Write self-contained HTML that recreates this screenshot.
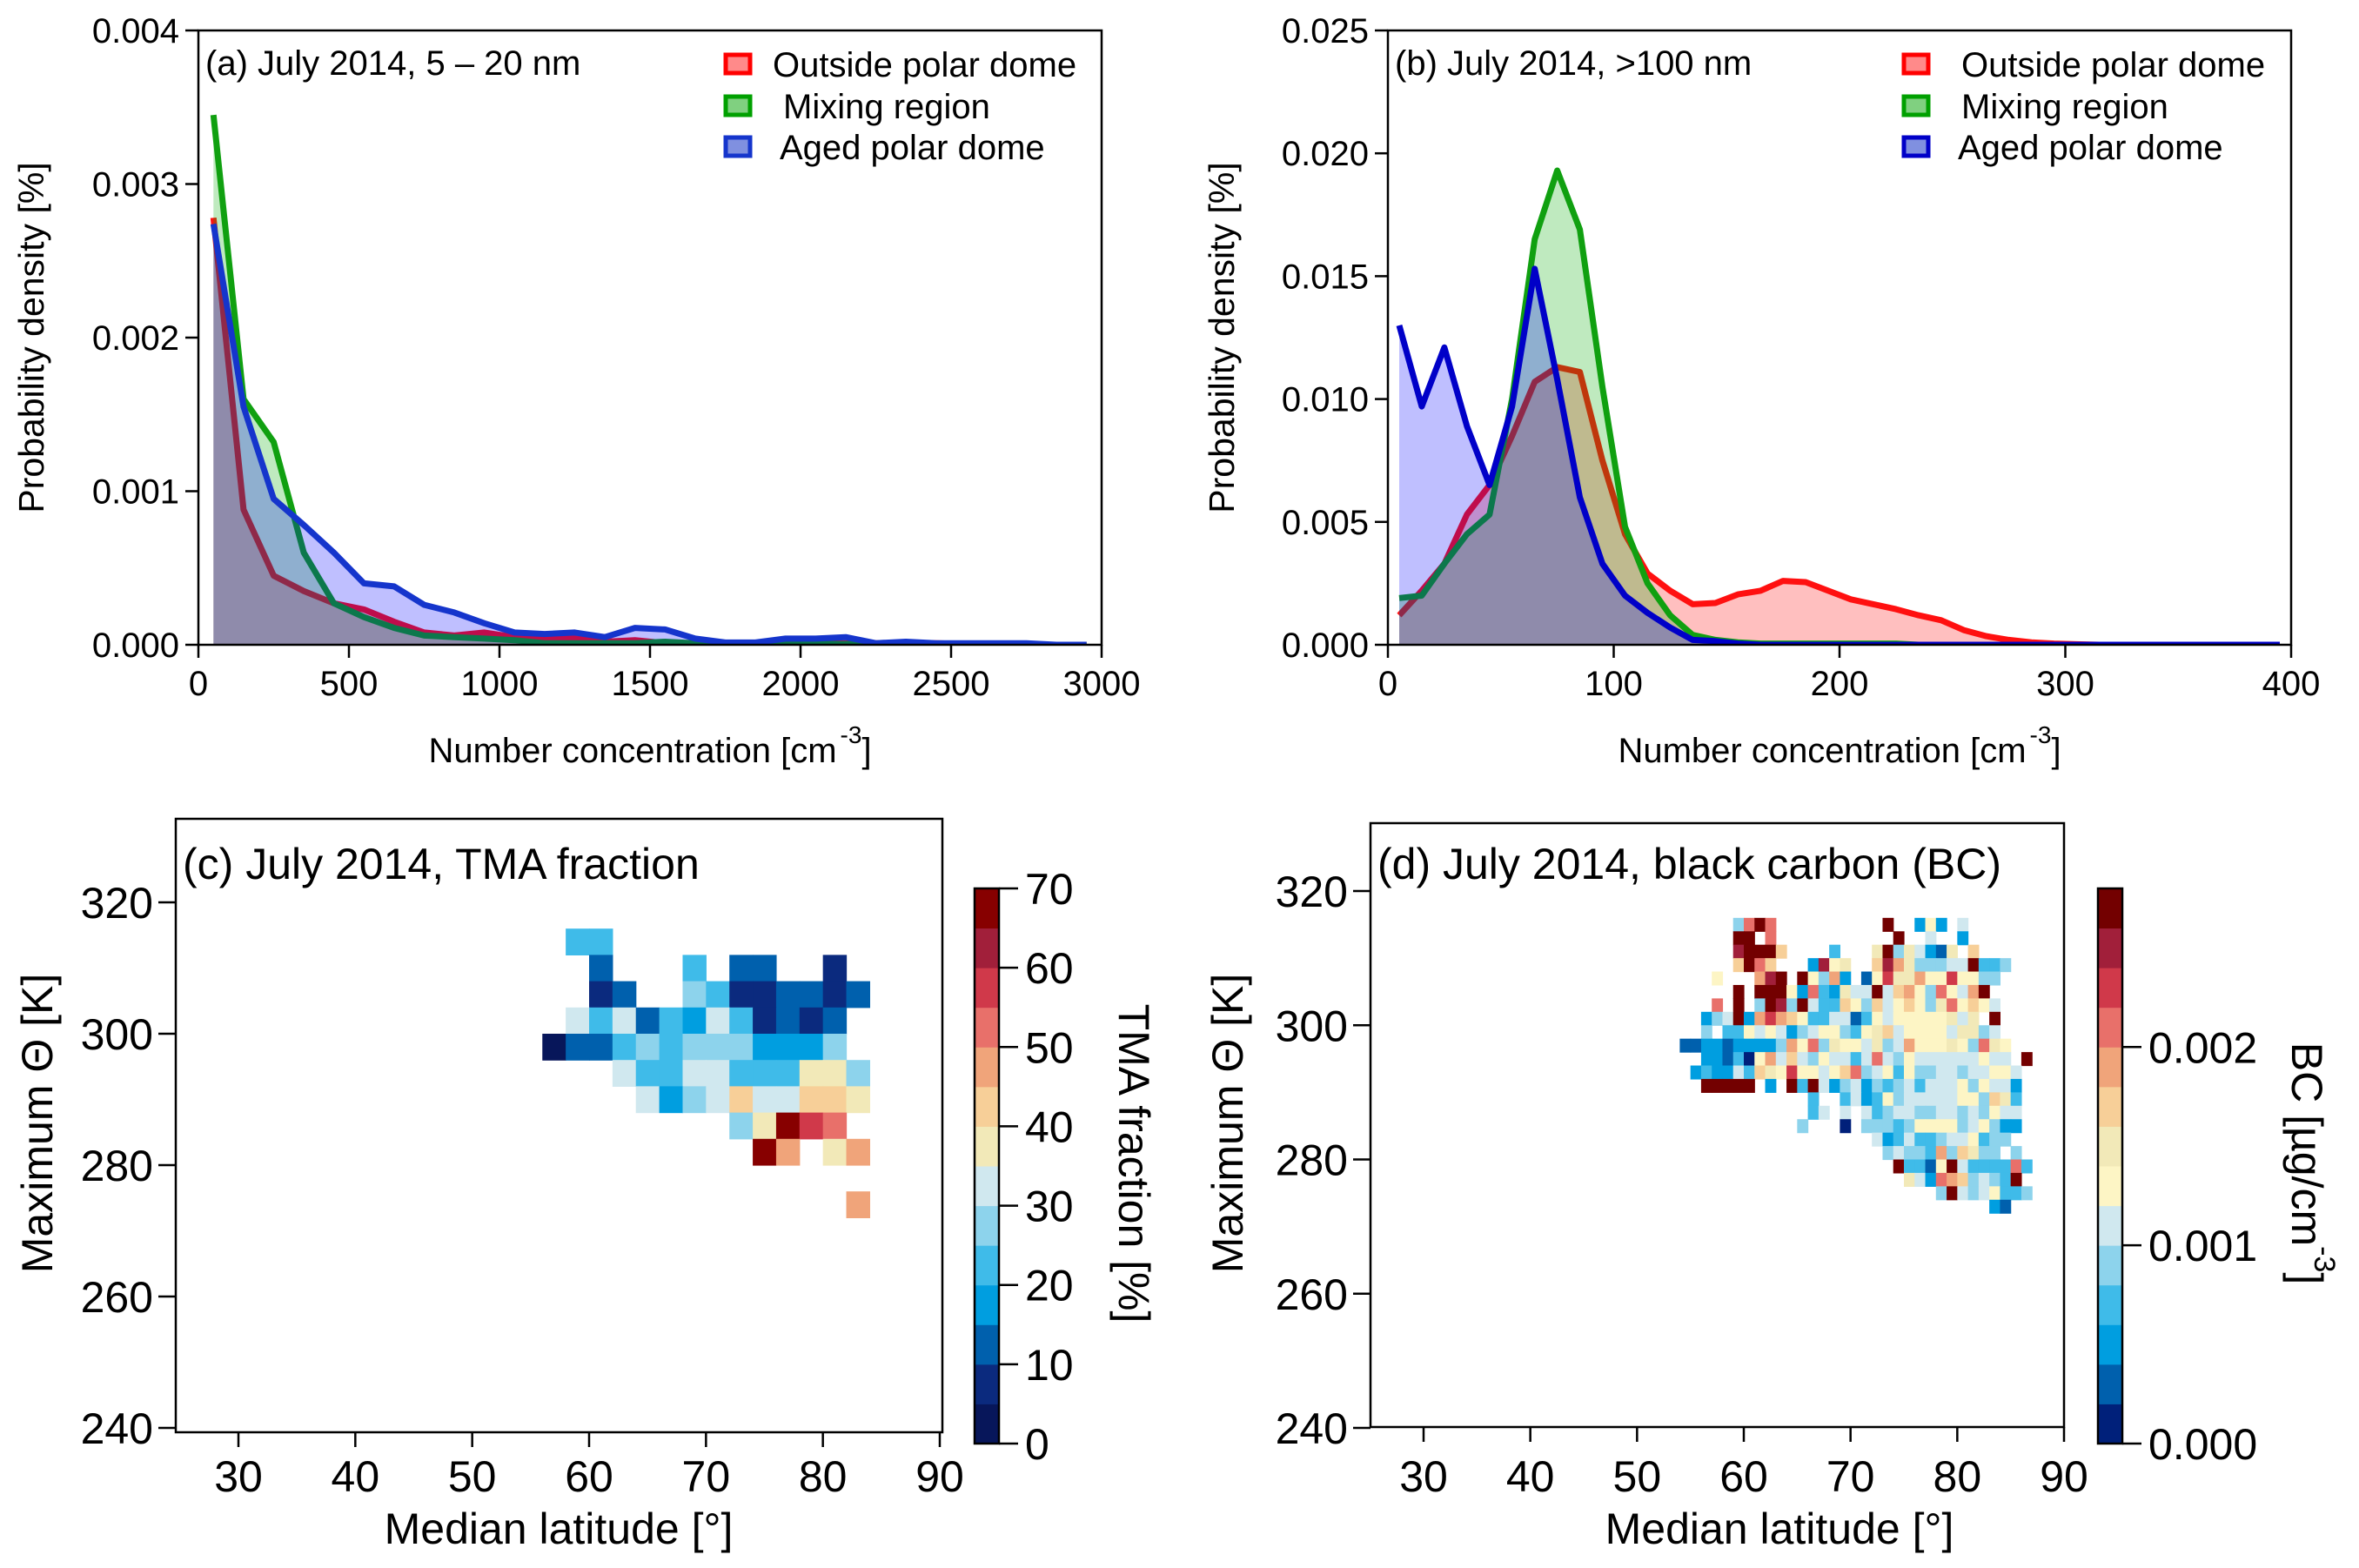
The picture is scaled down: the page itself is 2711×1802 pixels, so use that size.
<!DOCTYPE html>
<html><head><meta charset="utf-8"><style>
html,body{margin:0;padding:0;background:#fff;}
svg{display:block;font-family:"Liberation Sans",Arial,sans-serif;}
</style></head><body>
<svg id="fig" xmlns="http://www.w3.org/2000/svg" width="2711" height="1802" viewBox="0 0 2711 1802"></svg>
<script>
const _ = null;
// ---------- Panel (a) data: 5-20 nm, probability density (units 1e-3) ----------
const aX = [50,150,250,350,450,550,650,750,850,950,1050,1150,1250,1350,1450,1550,1650,1750,1850,1950,2050,2150,2250,2350,2450,2550,2650,2750,2850,2950];
const aRed = [2.78,0.88,0.45,0.35,0.27,0.23,0.15,0.08,0.06,0.08,0.05,0.04,0.04,0.02,0.03,0.01,0.01,0.01,0.01,0.01,0.01,0.01,0.01,0.01,0.01,0.005,0.005,0,0,0];
const aGreen = [3.45,1.60,1.32,0.60,0.27,0.18,0.11,0.06,0.05,0.04,0.03,0.01,0.01,0.01,0.01,0.02,0.01,0.01,0.005,0.005,0.005,0.005,0.005,0.005,0.005,0,0,0,0,0];
const aBlue = [2.74,1.55,0.95,0.78,0.60,0.40,0.38,0.26,0.21,0.14,0.08,0.07,0.08,0.05,0.11,0.10,0.04,0.015,0.015,0.04,0.04,0.05,0.01,0.02,0.01,0.01,0.01,0.01,0,0];
const aXTicks = [0,500,1000,1500,2000,2500,3000];
const aYTicks = [0,1,2,3,4];
const aYLabels = ['0.000','0.001','0.002','0.003','0.004'];
// ---------- Panel (b) data: >100 nm (units 1e-3) ----------
const bX = [5,15,25,35,45,55,65,75,85,95,105,115,125,135,145,155,165,175,185,195,205,215,225,235,245,255,265,275,285,295,305,315,325,335,345,355,365,375,385,395];
const bRed = [1.2,2.2,3.3,5.3,6.5,8.5,10.7,11.3,11.1,7.5,4.5,2.9,2.2,1.65,1.7,2.05,2.2,2.6,2.55,2.2,1.85,1.65,1.45,1.2,1.0,0.6,0.35,0.2,0.1,0.05,0.02,0,0,0,0,0,0,0,0,0];
const bGreen = [1.9,2.0,3.3,4.5,5.3,10.0,16.5,19.3,16.9,10.5,4.8,2.5,1.2,0.4,0.2,0.1,0.05,0.05,0.05,0.05,0.05,0.05,0.05,0,0,0,0,0,0,0,0,0,0,0,0,0,0,0,0,0];
const bBlue = [13.0,9.7,12.1,8.9,6.5,9.7,15.3,10.8,6.0,3.3,2.0,1.3,0.7,0.2,0.15,0.05,0,0,0,0,0,0,0,0,0,0,0,0,0,0,0,0,0,0,0,0,0,0,0,0];
const bXTicks = [0,100,200,300,400];
const bYTicks = [0,5,10,15,20,25];
const bYLabels = ['0.000','0.005','0.010','0.015','0.020','0.025'];
// ---------- Panel (c) data: TMA fraction [%], cells 2 deg x 4 K ----------
const tmaRowTheta = [312,308,304,300,296,292,288,284,280,272];
const tmaRowStart = [58,60,60,58,56,62,64,72,74,82];
const tmaRows = [
 [22.5,22.5],
 [12.5,_,_,_,22.5,_,12.5,12.5,_,_,7.5],
 [7.5,12.5,_,_,27.5,22.5,7.5,7.5,12.5,12.5,7.5,12.5],
 [32.5,22.5,32.5,12.5,22.5,17.5,32.5,22.5,7.5,12.5,7.5,12.5],
 [2.5,12.5,12.5,22.5,27.5,22.5,27.5,27.5,27.5,17.5,17.5,17.5,27.5],
 [32.5,22.5,22.5,32.5,32.5,22.5,22.5,22.5,37.5,37.5,27.5],
 [32.5,17.5,27.5,32.5,42.5,32.5,32.5,42.5,42.5,37.5],
 [27.5,37.5,67.5,57.5,52.5],
 [67.5,47.5,_,37.5,47.5],
 [47.5]
];
const cTicksX = [30,40,50,60,70,80,90];
const cTicksY = [240,260,280,300,320];
const cBarTicks = [0,10,20,30,40,50,60,70];
// ---------- Panel (d) data: BC [1e-3 ug/cm3], cells 1 deg x 2 K ----------
const bcRowTheta = [314,312,310,308,306,304,302,300,298,296,294,292,290,288,286,284,282,280,278,276,274,272];
const bcRowStart = [59,59,59,59,57,59,57,56,56,54,56,55,56,66,66,65,72,73,74,75,78,83];
const bcRows = [
 [.9,2.1,2.7,2.1,_,_,_,_,_,_,_,_,_,_,2.7,_,_,.5,1.3,.5,_,1.1],
 [2.7,2.7,_,2.1,_,_,_,_,_,_,_,_,_,_,_,2.7,_,_,1.1,_,_,.5],
 [2.5,2.7,2.7,2.7,1.7,_,_,_,_,.7,_,_,_,1.5,2.7,.9,1.5,1.1,.5,.3,1.5,_,1.7],
 [1.7,2.7,2.1,1.7,_,_,_,.5,2.5,1.3,1.5,_,_,1.7,2.5,1.9,1.5,.9,.9,.9,1.1,1.1,2.7,.7,.7,.9],
 [1.3,_,_,_,1.9,2.5,2.7,_,2.7,1.3,.9,1.9,.5,_,.3,1.3,2.3,1.5,1.5,1.9,1.3,1.3,2.3,1.3,1.3,.9,.9],
 [2.7,_,2.7,2.7,2.7,1.3,.5,2.1,.7,.5,1.5,1.1,1.1,2.7,1.1,1.7,1.9,1.3,.9,2.1,1.3,1.1,1.9,2.7],
 [2.1,_,2.7,_,.9,2.7,2.5,.9,2.7,1.1,.7,.7,1.7,1.3,.9,1.7,1.1,1.3,1.7,1.3,.9,1.5,2.1,1.3,1.7,1.3,1.1],
 [.5,.9,1.1,2.7,.5,1.9,2.3,1.9,1.7,1.3,.7,.7,1.1,1.1,.3,.7,1.3,1.1,1.3,1.3,1.3,1.3,1.3,1.5,1.1,1.5,_,2.7],
 [.9,_,.7,.7,1.3,1.1,1.3,1.1,.5,.9,1.1,1.3,1.3,.9,.7,1.3,1.5,1.7,1.1,1.3,1.3,1.3,1.3,1.1,1.5,1.5,.9,1.1],
 [.3,.3,.5,.5,.3,.5,.5,.5,.5,.9,1.9,1.3,2.1,.9,1.5,1.3,1.3,1.1,1.5,.9,1.1,1.9,1.3,1.3,1.3,1.5,1.3,.9,2.1,1.5,1.3],
 [.5,.5,.3,.7,.1,1.3,1.9,1.1,1.7,1.1,.9,1.3,1.1,1.1,.7,1.1,2.1,1.1,.9,1.3,1.1,1.1,1.1,1.1,1.1,1.1,1.3,1.1,1.1,_,2.7],
 [.5,.7,.5,.5,1.1,.7,1.7,1.5,1.3,2.3,1.3,1.3,1.1,1.3,1.7,2.1,.9,1.1,1.3,.7,1.3,.9,.9,1.1,1.1,.9,1.1,1.1,1.3,1.3,1.1],
 [2.7,2.7,2.7,2.7,2.7,_,.5,_,2.7,.7,2.7,1.1,.5,.9,1.1,.5,.9,.7,.9,1.1,.7,1.1,1.1,1.1,1.3,.9,1.3,1.1,1.1,.5],
 [.7,_,_,.7,1.1,.5,.7,1.3,.9,1.1,1.1,1.1,1.1,1.1,1.3,1.3,.9,1.7,1.5,.7],
 [.7,1.1,_,1.1,_,1.1,.7,.9,1.1,1.1,.9,.9,1.1,1.1,.9,1.1,.9,1.3,1.1,1.1],
 [.9,_,_,_,.1,_,.9,.9,.9,.7,.9,1.3,1.3,1.3,1.3,.9,1.1,1.3,.9,.5,.5],
 [1.1,.5,.7,1.1,.7,.7,.9,1.1,1.1,1.3,.7,.9,.9],
 [.9,1.1,.9,.9,.7,1.9,.9,1.7,1.5,.9,.9,_,.9],
 [2.7,.7,.7,.3,1.3,2.7,1.1,.7,.7,.7,.7,2.1,.7],
 [1.5,1.1,.5,2.1,1.9,1.7,.9,1.1,.9,.7,2.7],
 [.9,2.7,1.1,.9,1.1,1.3,.7,.7,.9],
 [.5,.3]
];
const dTicksX = [30,40,50,60,70,80,90];
const dTicksY = [240,260,280,300,320];
const dBarTicks = [0,1,2];
const dBarLabels = ['0.000','0.001','0.002'];

// ---------- styles ----------
const tmaPalette = ['#07165a','#0b2a7e','#0060ad','#009ee0','#3fbbe9','#8dd3ec','#d0e8ef','#f2e9b8','#f7cf98','#f0a47a','#e8706a','#d0394a','#a11f3a','#870000'];
const bcPalette = ['#00207a','#0060ad','#009ee0','#3fbbe9','#8dd3ec','#d0e8ef','#fdf5c5','#f2e9b8','#f7cf98','#f0a47a','#e8706a','#d0394a','#a11f3a','#730000'];

const NS = 'http://www.w3.org/2000/svg';
const svg = document.getElementById('fig');
function lin(d0,d1,p0,p1){return v=>p0+(v-d0)*(p1-p0)/(d1-d0);}
function el(tag, attrs, parent){
  const e = document.createElementNS(NS, tag);
  for (const k in attrs) e.setAttribute(k, attrs[k]);
  (parent||svg).appendChild(e);
  return e;
}
function txt(x,y,s,size,anchor,parent,rot){
  const t = el('text',{x:x,y:y,'font-size':size,'text-anchor':anchor||'start',fill:'#000'},parent);
  if (rot) t.setAttribute('transform','rotate('+rot+' '+x+' '+y+')');
  t.textContent = s;
  return t;
}

// ---------- line panels ----------
function linePanel(opt){
  const g = el('g',{});
  
  
  const xs = opt.xs, ys = opt.ys;
  const clipId = opt.name+'-clip';
  const cp = el('clipPath',{id:clipId}, g);
  el('rect',{x:opt.x0,y:opt.y1,width:opt.x1-opt.x0,height:opt.y0-opt.y1}, cp);
  const series = [
    {vals:opt.red, line:'#ff1010', fill:'rgba(255,0,0,0.25)', name:'outside-polar-dome'},
    {vals:opt.green, line:'#10a010', fill:'rgba(0,170,0,0.25)', name:'mixing-region'},
    {vals:opt.blue, line:opt.blueLine, fill:'rgba(0,0,255,0.25)', name:'aged-polar-dome'}
  ];
  const sg = el('g',{'clip-path':'url(#'+clipId+')'}, g);
  series.forEach(s=>{
    let pts = opt.X.map((xv,i)=>xs(xv).toFixed(1)+','+ys(s.vals[i]).toFixed(1));
    const area = el('polygon',{points: xs(opt.X[0]).toFixed(1)+','+ys(0)+' '+pts.join(' ')+' '+xs(opt.X[opt.X.length-1]).toFixed(1)+','+ys(0), fill:s.fill, stroke:'none'}, sg);
    
    
    const ln = el('polyline',{points:pts.join(' '), fill:'none', stroke:s.line, 'stroke-width':7, 'stroke-linejoin':'round'}, sg);
    
    
  });
  const box = el('rect',{x:opt.x0,y:opt.y1,width:opt.x1-opt.x0,height:opt.y0-opt.y1,fill:'none',stroke:'#000','stroke-width':2.5}, g);
  
  
  const xa = el('g',{},g);
  
  
  opt.xTicks.forEach(v=>{
    el('line',{x1:xs(v),x2:xs(v),y1:opt.y0,y2:opt.y0+15,stroke:'#000','stroke-width':2.5},xa);
    const t = txt(xs(v),opt.y0+58,String(v),40,'middle',xa);
    
    
  });
  const ya = el('g',{},g);
  
  
  opt.yTicks.forEach((v,i)=>{
    el('line',{x1:opt.x0-15,x2:opt.x0,y1:ys(v),y2:ys(v),stroke:'#000','stroke-width':2.5},ya);
    const t = txt(opt.x0-22,ys(v)+14,opt.yLabels[i],40,'end',ya);
    
    
  });
  const xt = el('text',{x:(opt.x0+opt.x1)/2,y:876,'font-size':40,'text-anchor':'middle'},g);
  
  
  const t1 = el('tspan',{},xt); t1.textContent='Number concentration [cm';
  const t2 = el('tspan',{'font-size':28,dy:-22,dx:4},xt); t2.textContent='-3';
  const t3 = el('tspan',{dy:22},xt); t3.textContent=']';
  const yt = txt(opt.yTitleX,388,'Probability density [%]',41,'middle',g,-90);
  
  
  const ann = txt(opt.annX,86,opt.ann,40,'start',g);
  
  
  const lg = el('g',{},g);
  
  
  const legs = [['Outside polar dome','#ff0000','#ff8a8a',74,opt.legTx[0]],['Mixing region','#00a000','#80d080',122,opt.legTx[1]],['Aged polar dome',opt.blueLine,'#8090e0',169,opt.legTx[2]]];
  legs.forEach(L=>{
    const e = el('g',{},lg);
    
    
    el('rect',{x:opt.legX,y:L[3]-11,width:28,height:21,fill:L[2],stroke:L[1],'stroke-width':5},e);
    txt(L[4],L[3]+14,L[0],40,'start',e);
  });
}
linePanel({name:'panel-a', X:aX, red:aRed, green:aGreen, blue:aBlue, xs:lin(0,3000,228,1266), ys:lin(0,4,741,35),
  x0:228,x1:1266,y0:741,y1:35, xTicks:aXTicks, yTicks:aYTicks, yLabels:aYLabels, yTitleX:50,
  ann:'(a) July 2014, 5 – 20 nm', annX:236, legX:834, legTx:[888,900,896], blueLine:'#1535cc'});
linePanel({name:'panel-b', X:bX, red:bRed, green:bGreen, blue:bBlue, xs:lin(0,400,1595,2633), ys:lin(0,25,741,35),
  x0:1595,x1:2633,y0:741,y1:35, xTicks:bXTicks, yTicks:bYTicks, yLabels:bYLabels, yTitleX:1418,
  ann:'(b) July 2014, >100 nm', annX:1603, legX:2188, legTx:[2254,2254,2250], blueLine:'#0000c8'});

// ---------- heatmap panels ----------
function heatPanel(opt){
  const g = el('g',{});
  
  
  const xs = opt.xs, ys = opt.ys;
  const cells = el('g',{},g);
  
  
  opt.rows.forEach((row,r)=>{
    row.forEach((v,i)=>{
      if (v===null) return;
      const lat = opt.rowStart[r] + i*opt.dLat;
      const th = opt.rowTheta[r];
      const x = xs(lat), w = xs(lat+opt.dLat)-x;
      const y = ys(th+opt.dTh), h = ys(th)-y;
      let bin = Math.floor(v/opt.binW + 1e-9);
      bin = Math.max(0, Math.min(opt.pal.length-1, bin));
      const c = el('rect',{x:x.toFixed(2),y:y.toFixed(2),width:(w+0.6).toFixed(2),height:(h+0.6).toFixed(2),fill:opt.pal[bin]},cells);
      
      
    });
  });
  const box = el('rect',{x:opt.bx0,y:opt.by1,width:opt.bx1-opt.bx0,height:opt.by0-opt.by1,fill:'none',stroke:'#000','stroke-width':2.5},g);
  
  
  const xa = el('g',{},g);
  
  
  opt.xTicks.forEach(v=>{
    el('line',{x1:xs(v),x2:xs(v),y1:opt.by0,y2:opt.by0+17,stroke:'#000','stroke-width':2.5},xa);
    const t = txt(xs(v),1714,String(v),50,'middle',xa);
    
    
  });
  const ya = el('g',{},g);
  
  
  opt.yTicks.forEach(v=>{
    el('line',{x1:opt.bx0-20,x2:opt.bx0,y1:ys(v),y2:ys(v),stroke:'#000','stroke-width':2.5},ya);
    const t = txt(opt.bx0-26,ys(v)+18,String(v),50,'end',ya);
    
    
  });
  const xt = txt(opt.xTitleX,1774,'Median latitude [°]',50,'middle',g);
  
  
  const yt = txt(opt.yTitleX,1291,'Maximum Θ [K]',50,'middle',g,-90);
  
  
  const ann = txt(opt.bx0+8,1010,opt.ann,50,'start',g);
  
  
  const cb = el('g',{},g);
  
  
  const cs = opt.cbs;
  opt.pal.forEach((col,i)=>{
    const y = cs((i+1)*opt.binW), h = cs(i*opt.binW)-y;
    el('rect',{x:opt.cbx,y:y,width:28,height:h+0.5,fill:col},cb);
  });
  el('rect',{x:opt.cbx,y:cs(opt.pal.length*opt.binW),width:28,height:cs(0)-cs(opt.pal.length*opt.binW),fill:'none',stroke:'#000','stroke-width':2.5},cb);
  opt.cbTicks.forEach((v,i)=>{
    el('line',{x1:opt.cbx+28,x2:opt.cbx+50,y1:cs(v),y2:cs(v),stroke:'#000','stroke-width':2.5},cb);
    const t = txt(opt.cbx+58,cs(v)+18,opt.cbLabels[i],50,'start',cb);
    
    
  });
  const ct = el('text',{x:opt.cbTitleX,y:1337,'font-size':50,'text-anchor':'middle',transform:'rotate(90 '+opt.cbTitleX+' 1337)'},cb);
  
  
  opt.cbTitle(ct);
}
heatPanel({name:'panel-c', rows:tmaRows, rowStart:tmaRowStart, rowTheta:tmaRowTheta, dLat:2, dTh:4, binW:5, pal:tmaPalette,
  xs:lin(30,90,274,1080), ys:lin(240,320,1641,1037), bx0:202,bx1:1083,by0:1646,by1:941,
  xTicks:cTicksX, yTicks:cTicksY, xTitleX:642, yTitleX:60, ann:'(c) July 2014, TMA fraction',
  cbs:lin(0,70,1659,1021), cbx:1120, cbTicks:cBarTicks, cbLabels:cBarTicks.map(String), cbTitleX:1286,
  cbTitle:(t)=>{t.textContent='TMA fraction [%]';}});
heatPanel({name:'panel-d', rows:bcRows, rowStart:bcRowStart, rowTheta:bcRowTheta, dLat:1, dTh:2, binW:0.2, pal:bcPalette,
  xs:lin(30,90,1636,2372), ys:lin(240,320,1641,1024), bx0:1575,bx1:2372,by0:1640,by1:946,
  xTicks:dTicksX, yTicks:dTicksY, xTitleX:2045, yTitleX:1428, ann:'(d) July 2014,  black carbon (BC)',
  cbs:lin(0,2.8,1659,1021), cbx:2411, cbTicks:dBarTicks, cbLabels:dBarLabels, cbTitleX:2634,
  cbTitle:(t)=>{const a=el('tspan',{},t);a.textContent='BC [µg/cm';const b=el('tspan',{'font-size':34,dy:-26},t);b.textContent='-3';const c=el('tspan',{dy:26},t);c.textContent=']';}});
</script>
</body></html>
